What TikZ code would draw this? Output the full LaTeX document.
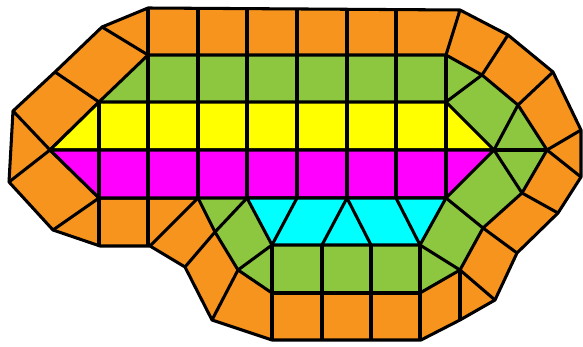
\documentclass[tikz,border=0pt]{standalone}
\usepackage{tikz}
\usepackage{xcolor}
\definecolor{meshorange}{RGB}{247,148,30}
\definecolor{meshgreen}{RGB}{141,198,63}
\definecolor{meshyellow}{RGB}{255,255,0}
\definecolor{meshmagenta}{RGB}{255,0,255}
\definecolor{meshcyan}{RGB}{0,255,255}

\begin{document}
\begin{tikzpicture}[x=0.03cm, y=-0.03cm, line width=2.6pt, line join=round,
    cell/.style={draw=black},
    outerring/.style={cell, fill=meshorange},
    innerring/.style={cell, fill=meshgreen}]
                \useasboundingbox (0,0) rectangle (583,347);
                \filldraw[outerring] (148,8) -- (460,10) -- (508,35) -- (553,72) -- (581,130) -- (581,177) -- (558,213) -- (517,253) -- (495,300) -- (460,320) -- (421,340) -- (272,340) -- (212,320) -- (185,267) -- (150,246) -- (100,246) -- (53,230) -- (9,182) -- (13,111) -- (55,72) -- (102,27) -- cycle;
                \filldraw[innerring] (148,55) -- (446,55) -- (482,75) -- (518,105) -- (547,150) -- (522,193) -- (483,228) -- (460,270) -- (420,293) -- (272,293) -- (238,270) -- (215,232) -- (198,198) -- (99,198) -- (50,150) -- (99,102) -- cycle;
                \filldraw[cell, fill=meshyellow] (50,150) -- (99,102) -- (446,102) -- (494,150) -- cycle;
                \filldraw[cell, fill=meshmagenta] (50,150) -- (494,150) -- (446,198) -- (99,198) -- cycle;
                \filldraw[cell, fill=meshcyan] (247,198) -- (446,198) -- (420,245) -- (272,245) -- cycle;
                \draw (494,150) -- (547,150);
                \foreach \x in {198,247,297,347,396}
                    \draw (\x,8) -- (\x,198);
                \draw (148,8) -- (148,246);
                \draw (99,102) -- (99,246);
                \draw (446,55) -- (446,198);
                \foreach \x in {272,322,371,420}
                    \draw (\x,245) -- (\x,340);
                \draw (272,293) -- (420,293);
                \draw (460,270) -- (460,320);
                \foreach \xa/\ya/\xb/\yb in {148/55/102/27, 99/102/55/72, 50/150/13/111, 50/150/9/182, 99/198/53/230, 198/198/150/246, 215/232/185/267, 238/270/212/320, 460/270/495/300, 483/228/517/253, 522/193/558/213, 547/150/581/177, 547/150/581/130, 518/105/553/72, 482/75/508/35, 446/55/460/10}
                    \draw (\xa,\ya) -- (\xb,\yb);
                \foreach \xa/\ya/\xb/\yb in {446/102/482/75, 494/150/518/105, 494/150/522/193, 446/198/483/228, 420/245/460/270, 272/245/238/270, 247/198/215/232}
                    \draw (\xa,\ya) -- (\xb,\yb);
                \foreach \xa/\ya/\xb/\yb in {297/198/272/245, 347/198/322/245, 347/198/371/245, 396/198/420/245}
                    \draw (\xa,\ya) -- (\xb,\yb);
            \end{tikzpicture}
\end{document}
